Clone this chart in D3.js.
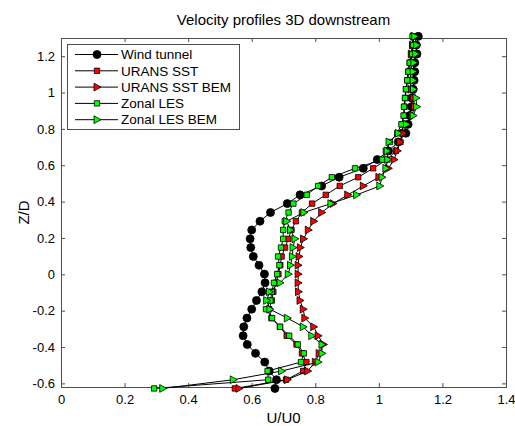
<!DOCTYPE html>
<html>
<head>
<meta charset="utf-8">
<script src="https://cdn.jsdelivr.net/npm/d3@7"></script>
<style>
body { margin:0; background:#fff; }
text { font-family: Arial, "Liberation Sans", sans-serif; }
</style>
</head>
<body>
<div id="profile-vis"></div>
<script>
// Z/D levels shared by all profiles
var zLevels = [1.309, 1.261, 1.212, 1.164, 1.115, 1.067, 1.018, 0.970, 0.922, 0.873, 0.825, 0.776, 0.728, 0.679, 0.631,
  0.583, 0.534, 0.486, 0.437, 0.389, 0.340, 0.292, 0.244, 0.195, 0.147, 0.098, 0.050, 0.001, -0.047, -0.096, -0.144,
  -0.192, -0.241, -0.289, -0.338, -0.386, -0.435, -0.483, -0.532, -0.580, -0.628];

// U/U0 per level
var windTunnel = [1.124, 1.118, 1.120, 1.113, 1.113, 1.111, 1.108, 1.103, 1.103, 1.097, 1.092, 1.085, 1.061, 1.030, 0.995,
  0.951, 0.875, 0.820, 0.752, 0.712, 0.659, 0.626, 0.600, 0.595, 0.597, 0.605, 0.623, 0.640, 0.642, 0.632, 0.615,
  0.600, 0.585, 0.575, 0.573, 0.586, 0.612, 0.641, 0.655, 0.678, 0.673];
var uransSst = [1.108, 1.106, 1.103, 1.097, 1.093, 1.090, 1.086, 1.083, 1.081, 1.079, 1.073, 1.075, 1.068, 1.053, 1.026,
  0.982, 0.935, 0.877, 0.833, 0.790, 0.758, 0.739, 0.725, 0.715, 0.705, 0.694, 0.690, 0.684, 0.676, 0.668, 0.663,
  0.655, 0.662, 0.689, 0.710, 0.741, 0.758, 0.772, 0.762, 0.708, 0.547];
var uransSstBem = [1.110, 1.106, 1.102, 1.104, 1.100, 1.100, 1.101, 1.108, 1.112, 1.104, 1.090, 1.076, 1.066, 1.058, 1.048,
  1.030, 1.000, 0.951, 0.902, 0.856, 0.820, 0.795, 0.778, 0.763, 0.753, 0.749, 0.746, 0.746, 0.746, 0.747, 0.752,
  0.762, 0.767, 0.795, 0.809, 0.826, 0.812, 0.800, 0.776, 0.712, 0.560];
var zonalLes = [1.106, 1.108, 1.105, 1.097, 1.093, 1.089, 1.085, 1.082, 1.079, 1.078, 1.071, 1.058, 1.035, 1.022, 1.011,
  0.925, 0.852, 0.809, 0.773, 0.731, 0.716, 0.704, 0.699, 0.699, 0.692, 0.683, 0.687, 0.680, 0.670, 0.663, 0.659,
  0.645, 0.664, 0.689, 0.718, 0.745, 0.764, 0.755, 0.650, 0.652, 0.293];
var zonalLesBem = [1.113, 1.119, 1.116, 1.110, 1.108, 1.108, 1.109, 1.117, 1.119, 1.108, 1.087, 1.061, 1.032, 1.026, 1.028,
  1.022, 1.010, 1.003, 0.930, 0.849, 0.764, 0.710, 0.722, 0.736, 0.730, 0.728, 0.722, 0.715, 0.689, 0.656, 0.647,
  0.657, 0.712, 0.762, 0.789, 0.821, 0.821, 0.809, 0.694, 0.542, 0.320];

var seriesNames = ["Wind tunnel", "URANS SST", "URANS SST BEM", "Zonal LES", "Zonal LES BEM"];
var seriesValues = [windTunnel, uransSst, uransSstBem, zonalLes, zonalLesBem];
var xTicks = [0, 0.2, 0.4, 0.6, 0.8, 1, 1.2, 1.4];
var yTicks = [-0.6, -0.4, -0.2, 0, 0.2, 0.4, 0.6, 0.8, 1, 1.2];

var markerStyle = [
  {shape:"circle", fill:"#000000"},
  {shape:"square", fill:"#ff0000"},
  {shape:"triangle", fill:"#ff0000"},
  {shape:"square", fill:"#00ff00"},
  {shape:"triangle", fill:"#00ff00"}
];

ProfileVis = function(_parentElement) {
  this.settings = {
    parentElement: _parentElement,
    width: 515, height: 426,
    plot: {left:61, right:506, top:38, bottom:387},
    tick: 4,
    fontsize: 13
  };
  this.initVis();
}

ProfileVis.prototype.markerPath = function(shape) {
  if (shape == "circle") return "M4,0A4,4,0,1,1,-4,0A4,4,0,1,1,4,0Z";
  if (shape == "square") return "M-2.7,-2.7L2.7,-2.7L2.7,2.7L-2.7,2.7Z";
  return "M-3,-3.9L4,0L-3,3.9Z";
}

ProfileVis.prototype.initVis = function() {
  var vis = this;
  var s = vis.settings;

  vis.svg = d3.select(s.parentElement).append("svg")
    .attr("width", s.width).attr("height", s.height);

  vis.x = d3.scaleLinear().domain([0, 1.4]).range([s.plot.left, s.plot.right]);
  vis.y = d3.scaleLinear().domain([-0.62, 1.3]).range([s.plot.bottom, s.plot.top]);

  // axes, MATLAB style: box with inward ticks on all sides
  var axisColor = "#4d4d4d";
  var fmt = function(d){ return String(d); };
  var gx = vis.svg.append("g").attr("transform", "translate(0," + s.plot.bottom + ")")
    .call(d3.axisBottom(vis.x).tickValues(xTicks).tickSizeInner(-s.tick).tickSizeOuter(0).tickPadding(8).tickFormat(fmt));
  var gxt = vis.svg.append("g").attr("transform", "translate(0," + s.plot.top + ")")
    .call(d3.axisTop(vis.x).tickValues(xTicks).tickSizeInner(-s.tick).tickSizeOuter(0).tickFormat(""));
  var gy = vis.svg.append("g").attr("transform", "translate(" + s.plot.left + ",0)")
    .call(d3.axisLeft(vis.y).tickValues(yTicks).tickSizeInner(-s.tick).tickSizeOuter(0).tickPadding(6).tickFormat(fmt));
  var gyr = vis.svg.append("g").attr("transform", "translate(" + s.plot.right + ",0)")
    .call(d3.axisRight(vis.y).tickValues(yTicks).tickSizeInner(-s.tick).tickSizeOuter(0).tickFormat(""));
  [gx, gxt, gy, gyr].forEach(function(g){
    g.select(".domain").remove();
    g.selectAll("line").attr("stroke", axisColor);
    g.selectAll("text").attr("fill", "#000").style("font-size", s.fontsize + "px");
  });
  vis.svg.append("rect")
    .attr("x", s.plot.left + 0.5).attr("y", s.plot.top + 0.5)
    .attr("width", s.plot.right - s.plot.left).attr("height", s.plot.bottom - s.plot.top)
    .attr("fill", "none").attr("stroke", axisColor);

  // title and labels
  vis.svg.append("text").attr("x", (s.plot.left + s.plot.right)/2).attr("y", 25)
    .attr("text-anchor", "middle").style("font-size", "15px").text("Velocity profiles 3D downstream");
  vis.svg.append("text").attr("x", (s.plot.left + s.plot.right)/2).attr("y", 423)
    .attr("text-anchor", "middle").style("font-size", "15px").text("U/U0");
  vis.svg.append("text").attr("transform", "translate(29," + (s.plot.top + s.plot.bottom)/2 + ") rotate(-90)")
    .attr("text-anchor", "middle").style("font-size", "15px").text("Z/D");

  vis.updateVis();
}

ProfileVis.prototype.updateVis = function() {
  var vis = this;

  var line = d3.line().x(function(d){ return vis.x(d.u); }).y(function(d){ return vis.y(d.z); });

  seriesValues.forEach(function(vals, i){
    var pts = vals.map(function(u, k){ return {u:u, z:zLevels[k]}; });
    var g = vis.svg.append("g").attr("class", "series");
    g.append("path").datum(pts).attr("d", line)
      .attr("fill", "none").attr("stroke", "#000").attr("stroke-width", 1);
    g.selectAll(".marker").data(pts).enter().append("path").attr("class", "marker")
      .attr("d", vis.markerPath(markerStyle[i].shape))
      .attr("transform", function(d){ return "translate(" + vis.x(d.u) + "," + vis.y(d.z) + ")"; })
      .attr("fill", markerStyle[i].fill).attr("stroke", "#000").attr("stroke-width", 0.8);
  });

  // legend
  var lg = vis.svg.append("g");
  lg.append("rect").attr("x", 67.5).attr("y", 44.5).attr("width", 172).attr("height", 85)
    .attr("fill", "#fff").attr("stroke", "#4d4d4d");
  var entries = lg.selectAll(".entry").data(seriesNames).enter().append("g").attr("class", "entry")
    .attr("transform", function(d, i){ return "translate(0," + (54.5 + i*16.3) + ")"; });
  entries.append("line").attr("x1", 75).attr("x2", 118).attr("stroke", "#000");
  entries.append("path").attr("d", function(d, i){ return vis.markerPath(markerStyle[i].shape); })
    .attr("transform", "translate(97,0)")
    .attr("fill", function(d, i){ return markerStyle[i].fill; }).attr("stroke", "#000").attr("stroke-width", 0.8);
  entries.append("text").attr("x", 121).attr("dy", "0.35em").style("font-size", "13.5px").text(function(d){ return d; });
}

var vis = new ProfileVis("#profile-vis");
</script>
</body>
</html>
